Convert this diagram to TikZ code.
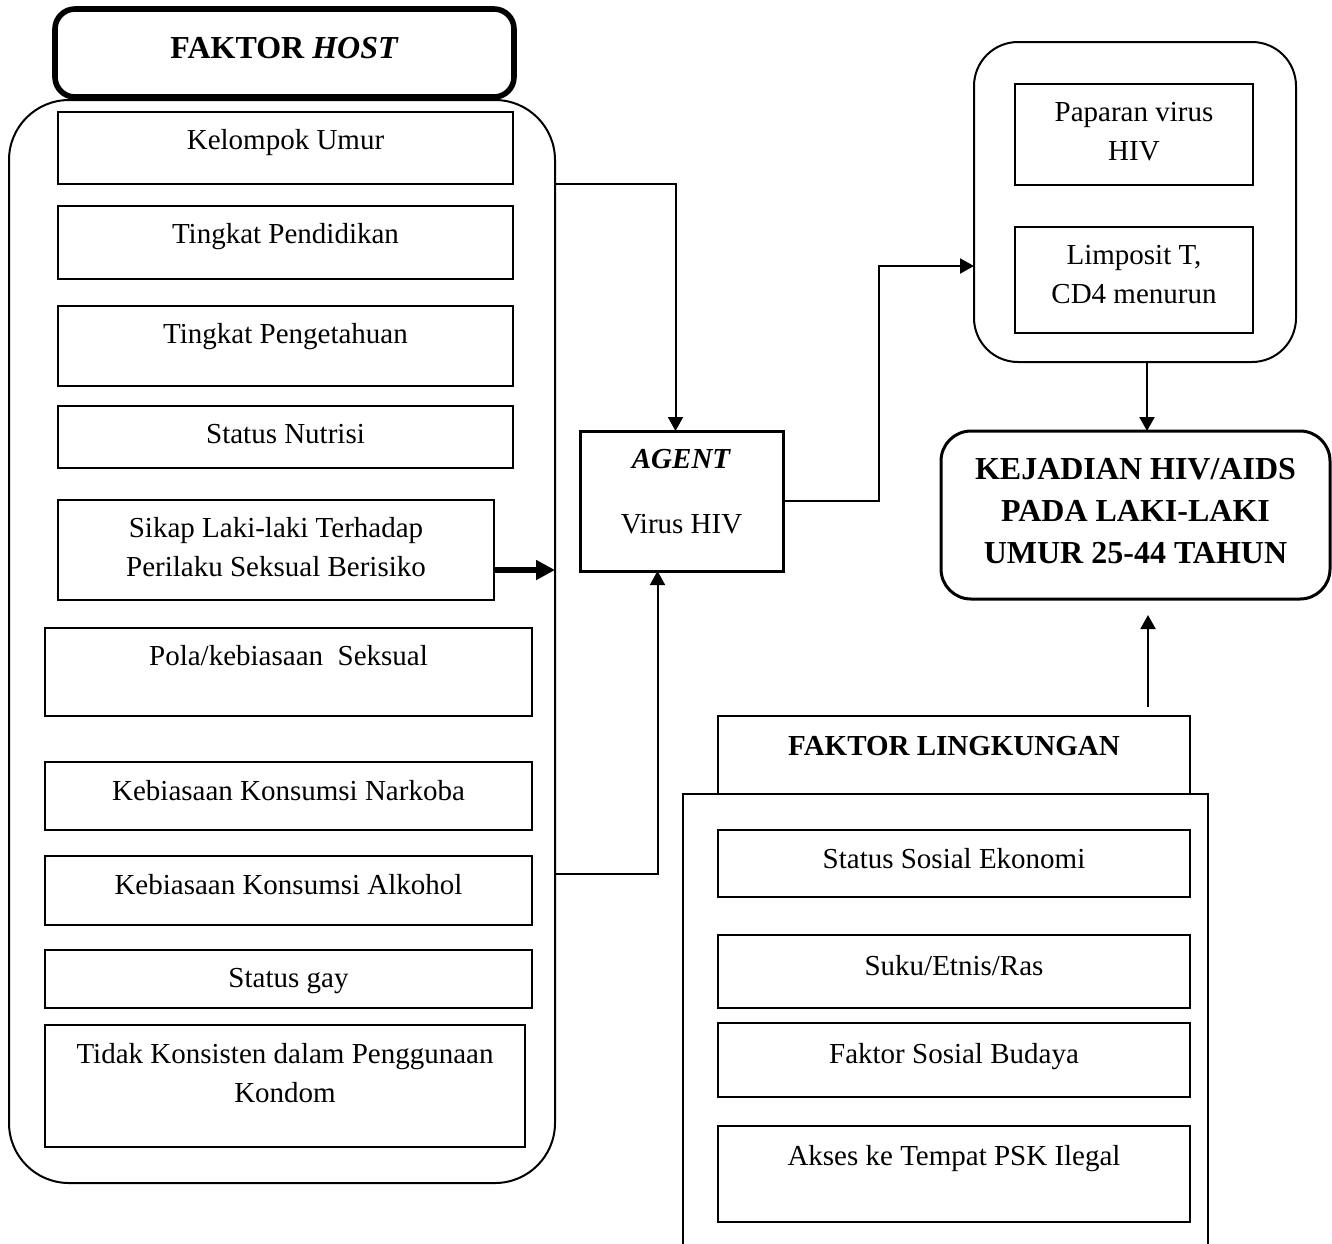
\documentclass[tikz,border=0pt]{standalone}
\usepackage{fontspec}
\setmainfont{Liberation Serif}
\usetikzlibrary{arrows.meta}
\newcommand{\ml}[1]{\begin{tabular}[t]{@{}c@{}}#1\end{tabular}}
\newcommand{\mkbox}[6]{\node[#6, anchor=north west, minimum width={(#4-#2)*0.5pt}, minimum height={(#5-#3)*0.5pt}] (#1) at (#2,#3) {};}
\tikzset{
  frame/.style={draw, line width=1pt, inner sep=0pt, outer sep=0pt, rectangle, fill=white},
  hostwrap/.style={frame, rounded corners=30pt},
  hosthead/.style={frame, line width=2.8pt, rounded corners=10pt},
  agentbox/.style={frame, line width=1.5pt},
  virwrap/.style={frame, rounded corners=22pt},
  resultbox/.style={frame, line width=1.5pt, rounded corners=15pt},
  txt/.style={inner sep=0pt, outer sep=0pt, anchor=base, font=\fontsize{14.5}{19.5}\selectfont},
  bigtxt/.style={inner sep=0pt, outer sep=0pt, anchor=base, font=\fontsize{16}{21}\selectfont\bfseries},
  arr/.style={line width=1pt, -{Triangle[width=7.5pt,length=7pt]}},
  thickarr/.style={line width=2.6pt, -{Triangle[width=9.5pt,length=9.5pt]}}
}
\begin{document}
\begin{tikzpicture}[x=0.5pt,y=-0.5pt]
\useasboundingbox (0,0) rectangle (1332,1243);

% ---- FAKTOR HOST ----
\mkbox{hc}{9}{100}{555}{1183}{hostwrap}
\mkbox{hh}{55}{9}{514}{97}{hosthead}
\node[bigtxt] (hht) at ([yshift=-24.5pt]hh.north) {FAKTOR \textit{HOST}};

\mkbox{b1}{58}{112}{513}{184}{frame}
\mkbox{b2}{58}{206}{513}{279}{frame}
\mkbox{b3}{58}{306}{513}{386}{frame}
\mkbox{b4}{58}{406}{513}{468}{frame}
\mkbox{b5}{58}{500}{494}{600}{frame}
\mkbox{b6}{45}{628}{532}{716}{frame}
\mkbox{b7}{45}{762}{532}{830}{frame}
\mkbox{b8}{45}{856}{532}{925}{frame}
\mkbox{b9}{45}{950}{532}{1008}{frame}
\mkbox{b10}{45}{1025}{525}{1147}{frame}

\node[txt] (b1t) at ([yshift=-18.75pt]b1.north) {Kelompok Umur};
\node[txt] (b2t) at ([yshift=-18.75pt]b2.north) {Tingkat Pendidikan};
\node[txt] (b3t) at ([yshift=-18.75pt]b3.north) {Tingkat Pengetahuan};
\node[txt] (b4t) at ([yshift=-18.75pt]b4.north) {Status Nutrisi};
\node[txt] (b5t) at ([yshift=-18.75pt]b5.north) {\ml{Sikap Laki-laki Terhadap\\Perilaku Seksual Berisiko}};
\node[txt] (b6t) at ([yshift=-18.75pt]b6.north) {Pola/kebiasaan\ \ Seksual};
\node[txt] (b7t) at ([yshift=-19pt]b7.north) {Kebiasaan Konsumsi Narkoba};
\node[txt] (b8t) at ([yshift=-19pt]b8.north) {Kebiasaan Konsumsi Alkohol};
\node[txt] (b9t) at ([yshift=-18.75pt]b9.north) {Status gay};
\node[txt] (b10t) at ([yshift=-19pt]b10.north) {\ml{Tidak Konsisten dalam Penggunaan\\Kondom}};

% ---- AGENT ----
\mkbox{ag}{580}{431}{783}{571}{agentbox}
\node[txt] (agt) at ([yshift=-18.5pt]ag.north) {\ml{\textbf{\textit{AGENT}}\\[13pt]Virus HIV}};

% ---- virus box ----
\mkbox{rr}{974}{42}{1296}{362}{virwrap}
\mkbox{pv}{1015}{84}{1253}{185}{frame}
\mkbox{lt}{1015}{227}{1253}{333}{frame}
\node[txt] (pvt) at ([yshift=-18.75pt]pv.north) {\ml{Paparan virus\\HIV}};
\node[txt] (ltt) at ([yshift=-18.75pt]lt.north) {\ml{Limposit T,\\CD4 menurun}};

% ---- result ----
\mkbox{kj}{941}{431}{1330}{599}{resultbox}
\node[bigtxt] (kjt) at ([yshift=-24pt]kj.north) {\ml{KEJADIAN HIV/AIDS\\PADA LAKI-LAKI\\UMUR 25-44 TAHUN}};

% ---- FAKTOR LINGKUNGAN ----
\mkbox{lo}{683}{794}{1208}{1290}{frame}
\mkbox{lh}{718}{716}{1190}{794}{frame}
\node[txt, font=\fontsize{14.5}{19.5}\selectfont\bfseries] (lht) at ([yshift=-19.5pt]lh.north) {FAKTOR LINGKUNGAN};
\mkbox{l1}{718}{830}{1190}{897}{frame}
\mkbox{l2}{718}{935}{1190}{1008}{frame}
\mkbox{l3}{718}{1023}{1190}{1097}{frame}
\mkbox{l4}{718}{1126}{1190}{1222}{frame}
\node[txt] (l1t) at ([yshift=-19pt]l1.north) {Status Sosial Ekonomi};
\node[txt] (l2t) at ([yshift=-20pt]l2.north) {Suku/Etnis/Ras};
\node[txt] (l3t) at ([yshift=-20pt]l3.north) {Faktor Sosial Budaya};
\node[txt] (l4t) at ([yshift=-19.5pt]l4.north) {Akses ke Tempat PSK Ilegal};

% ---- connectors ----
\coordinate (up1) at (555,184);
\coordinate (lo1) at (555,874);
\coordinate (envs) at (1148,707);
\coordinate (enve) at (1148,615);

\draw[arr] (up1) -| ([xshift=-3pt]ag.north);
\draw[arr] (lo1) -| ([xshift=-12pt]ag.south);
\draw[thickarr] ([yshift=-10pt]b5.east) -- ([yshift=-10pt]b5.east -| hc.east);
\draw[arr] (ag.east) -- ++(96,0) |- ([yshift=-32pt]rr.west);
\draw[arr] ([xshift=6pt]rr.south) -- ([xshift=6pt]rr.south |- kj.north);
\draw[arr] (envs) -- (enve);
\end{tikzpicture}
\end{document}
